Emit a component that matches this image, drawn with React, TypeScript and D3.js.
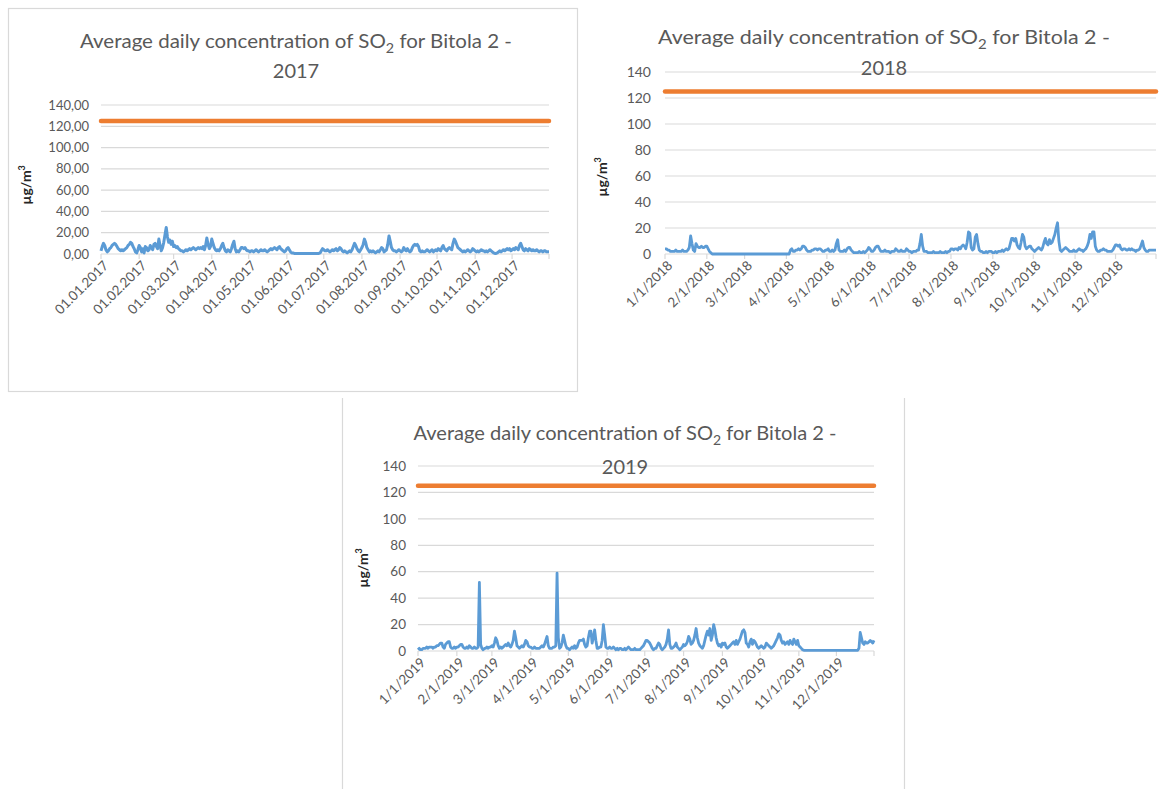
import React from "react";
import * as d3 from "d3";

// ---------- DATA ----------
const limitValue = 125;
const yTicks = [0, 20, 40, 60, 80, 100, 120, 140];
const years = [2017, 2018, 2019];

const so2_2017 = [
  3, 7, 10, 8, 4, 2, 3, 5, 6, 8,
  9, 10, 9, 7, 5, 4, 3, 4, 3, 4,
  5, 6, 8, 9, 11, 10, 7, 5, 2, 1,
  4, 8, 6, 2, 5, 1, 7, 6, 3, 4,
  8, 6, 4, 9, 10, 7, 5, 14, 8, 3,
  6, 11, 18, 25, 16, 11, 13, 9, 12, 7,
  8, 6, 7, 5, 4, 3, 3, 2, 3, 4,
  3, 4, 5, 4, 5, 6, 5, 4, 5, 6,
  5, 6, 5, 7, 4, 8, 15, 9, 5, 7,
  14, 10, 6, 4, 3, 4, 3, 5, 8, 10,
  6, 3, 2, 4, 3, 2, 5, 9, 12, 5,
  2, 3, 2, 4, 6, 6, 5, 6, 4, 3,
  3, 2, 3, 3, 2, 3, 4, 3, 2, 3,
  4, 3, 3, 4, 3, 2, 3, 4, 5, 4,
  5, 6, 5, 4, 6, 7, 5, 4, 3, 2,
  3, 5, 6, 4, 2, 1, 1, 0.5, 0.5, 0.5,
  0.5, 0.5, 0.5, 0.5, 0.5, 0.5, 0.5, 0.5, 0.5, 0.5,
  0.5, 0.5, 0.5, 0.5, 0.5, 0.5, 0.5, 0.5, 1, 3,
  5, 4, 3, 3, 4, 3, 2, 3, 4, 3,
  4, 5, 3, 4, 6, 5, 3, 2, 3, 2,
  1, 2, 3, 2, 4, 7, 10, 8, 5, 3,
  2, 4, 6, 9, 14, 11, 6, 4, 2, 3,
  2, 3, 2, 1, 2, 3, 2, 4, 6, 5,
  2, 3, 4, 9, 17, 12, 6, 4, 3, 3,
  2, 3, 4, 3, 2, 3, 6, 4, 3, 5,
  3, 2, 3, 6, 8, 9, 8, 9, 7, 3,
  2, 3, 2, 2, 3, 4, 3, 2, 3, 4,
  2, 3, 4, 3, 5, 4, 3, 6, 8, 5,
  4, 3, 5, 6, 5, 4, 10, 14, 12, 9,
  6, 5, 4, 3, 2, 3, 2, 3, 4, 3,
  2, 3, 5, 4, 3, 2, 3, 2, 3, 4,
  3, 3, 2, 3, 2, 3, 4, 3, 2, 1,
  0.5, 0.5, 1, 2, 3, 2, 3, 4, 3, 4,
  5, 4, 5, 3, 4, 5, 4, 6, 5, 4,
  8, 10, 7, 4, 3, 5, 4, 3, 5, 4,
  3, 4, 3, 3, 4, 3, 2, 3, 3, 2,
  3, 3, 2, 2, 2,
];

const so2_2018 = [
  4, 4, 3, 3, 2, 2, 2, 2, 3, 2,
  2, 2, 2, 3, 2, 2, 2, 3, 5, 14,
  8, 3, 2, 8, 6, 5, 5, 6, 5, 5,
  6, 6, 4, 2, 1, 0, 0, 0, 0, 0,
  0, 0, 0, 0, 0, 0, 0, 0, 0, 0,
  0, 0, 0, 0, 0, 0, 0, 0, 0, 0,
  0, 0, 0, 0, 0, 0, 0, 0, 0, 0,
  0, 0, 0, 0, 0, 0, 0, 0, 0, 0,
  0, 0, 0, 0, 0, 0, 0, 0, 0, 0,
  0, 0, 0, 3, 4, 2, 2, 3, 3, 4,
  3, 4, 6, 6, 5, 3, 2, 2, 2, 3,
  3, 4, 4, 3, 4, 4, 3, 2, 2, 3,
  3, 4, 2, 2, 3, 2, 3, 8, 11, 3,
  2, 2, 2, 3, 2, 4, 5, 5, 3, 2,
  1, 1, 1, 1, 2, 1, 1, 2, 1, 2,
  3, 5, 4, 2, 2, 3, 5, 6, 6, 4,
  2, 2, 2, 3, 2, 2, 2, 1, 2, 2,
  2, 4, 3, 2, 2, 3, 2, 2, 2, 4,
  3, 2, 2, 1, 2, 2, 2, 3, 3, 8,
  15, 6, 2, 2, 2, 1, 1, 1, 1, 2,
  1, 1, 1, 1, 2, 1, 1, 1, 2, 1,
  2, 2, 4, 4, 3, 4, 4, 3, 5, 4,
  6, 7, 6, 4, 9, 17, 16, 5, 3, 4,
  13, 15, 8, 3, 2, 2, 1, 1, 2, 1,
  2, 2, 2, 1, 1, 2, 1, 2, 2, 2,
  3, 2, 3, 4, 3, 4, 8, 12, 12, 10,
  12, 7, 5, 4, 9, 15, 13, 6, 4, 5,
  6, 6, 4, 3, 2, 3, 4, 5, 4, 3,
  5, 9, 12, 8, 7, 11, 8, 9, 12, 15,
  20, 24, 10, 3, 2, 3, 4, 5, 4, 3,
  2, 2, 2, 3, 2, 2, 3, 4, 3, 3,
  2, 3, 4, 6, 9, 15, 12, 17, 17, 6,
  3, 2, 2, 3, 3, 4, 3, 3, 2, 2,
  2, 2, 3, 5, 7, 7, 6, 7, 4, 3,
  4, 4, 3, 3, 4, 3, 4, 3, 3, 2,
  3, 3, 4, 7, 10, 5, 3, 2, 2, 3,
  3, 3, 3, 3, 3,
];

const so2_2019 = [
  1, 2, 1, 1, 2, 2, 2, 3, 2, 3,
  3, 3, 2, 3, 3, 4, 4, 5, 6, 6,
  3, 2, 5, 6, 7, 7, 3, 2, 2, 3,
  2, 3, 3, 4, 5, 5, 3, 2, 2, 3,
  2, 4, 3, 2, 2, 3, 2, 2, 3, 52,
  5, 2, 1, 2, 2, 3, 2, 3, 3, 4,
  3, 6, 10, 8, 4, 2, 3, 2, 3, 4,
  5, 4, 6, 4, 3, 5, 8, 15, 10, 4,
  3, 2, 3, 4, 3, 5, 8, 7, 4, 3,
  3, 2, 2, 3, 2, 2, 2, 2, 3, 4,
  3, 5, 8, 11, 4, 2, 2, 2, 3, 3,
  4, 59, 10, 2, 3, 6, 12, 8, 4, 2,
  2, 1, 2, 3, 2, 4, 2, 3, 6, 8,
  8, 8, 9, 5, 3, 4, 10, 15, 15, 6,
  10, 16, 8, 2, 2, 3, 3, 8, 20, 12,
  3, 2, 2, 3, 2, 2, 3, 2, 1, 2,
  1, 2, 2, 1, 1, 2, 1, 2, 3, 2,
  1, 1, 1, 2, 1, 1, 1, 1, 2, 3,
  4, 6, 8, 8, 7, 6, 4, 2, 1, 2,
  2, 4, 6, 5, 2, 1, 2, 3, 5, 9,
  16, 5, 2, 2, 3, 4, 6, 3, 2, 1,
  2, 3, 5, 4, 5, 7, 11, 9, 5, 6,
  8, 12, 17, 10, 6, 4, 3, 2, 4, 8,
  12, 15, 12, 17, 8, 12, 20, 16, 10, 6,
  4, 5, 3, 6, 5, 6, 3, 2, 3, 4,
  5, 6, 7, 5, 8, 5, 7, 9, 12, 15,
  16, 14, 6, 5, 3, 7, 9, 5, 8, 7,
  5, 3, 2, 3, 4, 3, 2, 3, 6, 5,
  4, 3, 2, 3, 4, 6, 8, 10, 13, 12,
  8, 6, 7, 5, 6, 7, 5, 8, 6, 5,
  9, 7, 5, 8, 4, 3, 2, 1, 0.5, 0.5,
  0.5, 0.5, 0.5, 0.5, 0.5, 0.5, 0.5, 0.5, 0.5, 0.5,
  0.5, 0.5, 0.5, 0.5, 0.5, 0.5, 0.5, 0.5, 0.5, 0.5,
  0.5, 0.5, 0.5, 0.5, 0.5, 0.5, 0.5, 0.5, 0.5, 0.5,
  0.5, 0.5, 0.5, 0.5, 0.5, 0.5, 0.5, 0.5, 0.5, 0.5,
  0.5, 0.5, 2, 14, 10, 6, 5, 7, 6, 6,
  7, 8, 7, 6, 8,
];

const titleText = "Average daily concentration of SO";
const titleRest = " for Bitola 2 -";
const yAxisTitle = "µg/m";

// ---------- LAYOUT ----------
const FONT = "Lato, 'Open Sans', 'Liberation Sans', sans-serif";
const BLUE = "#5b9bd5";
const ORANGE = "#ed7d31";
const GRID = "#d9d9d9";
const TEXT = "#595959";

type Layout = {
  left: number; right: number; top: number; bottom: number;
  yLabelX: number; titleCx: number; titleY1: number; titleY2: number; titleW: number;
  axTitleX: number; axTitleY: number; yFmt: (v: number) => string; xFmt: (d: Date) => string;
  xFont: number; yFont: number; blueW: number;
};

const layouts: Layout[] = [
  {
    left: 101, right: 549, top: 105, bottom: 254, yLabelX: 89,
    titleCx: 296, titleY1: 48, titleY2: 78, titleW: 432,
    axTitleX: 31, axTitleY: 185,
    yFmt: (v) => v.toFixed(2).replace(".", ","),
    xFmt: d3.utcFormat("%d.%m.%Y"),
    xFont: 13.5, yFont: 13, blueW: 3,
  },
  {
    left: 665, right: 1156, top: 72, bottom: 254, yLabelX: 651,
    titleCx: 884, titleY1: 44, titleY2: 75, titleW: 452,
    axTitleX: 607, axTitleY: 177,
    yFmt: (v) => String(v),
    xFmt: d3.utcFormat("%-m/%-d/%Y"),
    xFont: 13.5, yFont: 14, blueW: 2.8,
  },
  {
    left: 418, right: 874, top: 466, bottom: 651, yLabelX: 406,
    titleCx: 625, titleY1: 440, titleY2: 474, titleW: 423,
    axTitleX: 368, axTitleY: 568,
    yFmt: (v) => String(v),
    xFmt: d3.utcFormat("%-m/%-d/%Y"),
    xFont: 13.5, yFont: 13.5, blueW: 2.8,
  },
];

function Panel({ year, values, L }: { year: number; values: number[]; L: Layout }) {
  const start = new Date(Date.UTC(year, 0, 1));
  const end = new Date(Date.UTC(year, 11, 31));
  const x = d3.scaleUtc().domain([start, end]).range([L.left, L.right]);
  const y = d3.scaleLinear().domain([0, 140]).range([L.bottom, L.top]);
  const pts = values.map((v, i) => ({ d: d3.utcDay.offset(start, i), v }));
  const line = d3.line<{ d: Date; v: number }>().x((p) => x(p.d)).y((p) => y(p.v));
  const months = d3.utcMonth.range(start, d3.utcDay.offset(end, 1));
  const tickDates = [...months, end];
  return (
    <g fontFamily={FONT}>
      {yTicks.map((t) => (
        <g key={t}>
          <line x1={L.left} x2={L.right} y1={y(t)} y2={y(t)} stroke={GRID} strokeWidth={1.2} />
          <text x={L.yLabelX} y={y(t)} dy="0.35em" textAnchor="end" fontSize={L.yFont} fill={TEXT}>
            {L.yFmt(t)}
          </text>
        </g>
      ))}
      {tickDates.map((d, i) => (
        <line key={i} x1={x(d)} x2={x(d)} y1={L.bottom} y2={L.bottom + 5} stroke={GRID} strokeWidth={1.2} />
      ))}
      {months.map((d, i) => (
        <text
          key={i}
          transform={`translate(${x(d) + 5},${L.bottom + 9}) rotate(-45)`}
          textAnchor="end"
          dy="0.35em"
          fontSize={L.xFont}
          fill={TEXT}
        >
          {L.xFmt(d)}
        </text>
      ))}
      <path d={line([{ d: start, v: limitValue }, { d: end, v: limitValue }]) || ""} stroke={ORANGE} strokeWidth={4.5} strokeLinecap="round" fill="none" />
      <path d={line(pts) || ""} stroke={BLUE} strokeWidth={L.blueW} strokeLinejoin="round" fill="none" />
      <text
        transform={`translate(${L.axTitleX},${L.axTitleY}) rotate(-90)`}
        textAnchor="middle"
        fontSize={14}
        fontWeight="bold"
        fill="#262626"
      >
        {yAxisTitle}
        <tspan dy={-6} fontSize={9}>3</tspan>
      </text>
      <text x={L.titleCx} y={L.titleY1} textAnchor="middle" fontSize={20} fill={TEXT}
        textLength={L.titleW} lengthAdjust="spacingAndGlyphs">
        {titleText}
        <tspan dy={5} fontSize={14}>2</tspan>
        <tspan dy={-5}>{titleRest}</tspan>
      </text>
      <text x={L.titleCx} y={L.titleY2} textAnchor="middle" fontSize={20} fill={TEXT}>
        {String(year)}
      </text>
    </g>
  );
}

export default function App() {
  const series = [so2_2017, so2_2018, so2_2019];
  return (
    <svg width={1172} height={789} style={{ position: "absolute", left: 0, top: 0, background: "#fff" }}>
      <rect x={8.5} y={8.5} width={569} height={383} fill="none" stroke={GRID} strokeWidth={1.2} />
      <line x1={342.5} x2={342.5} y1={398} y2={789} stroke={GRID} strokeWidth={1.2} />
      <line x1={904.5} x2={904.5} y1={398} y2={789} stroke={GRID} strokeWidth={1.2} />
      {years.map((yr, i) => (
        <Panel key={yr} year={yr} values={series[i]} L={layouts[i]} />
      ))}
    </svg>
  );
}
